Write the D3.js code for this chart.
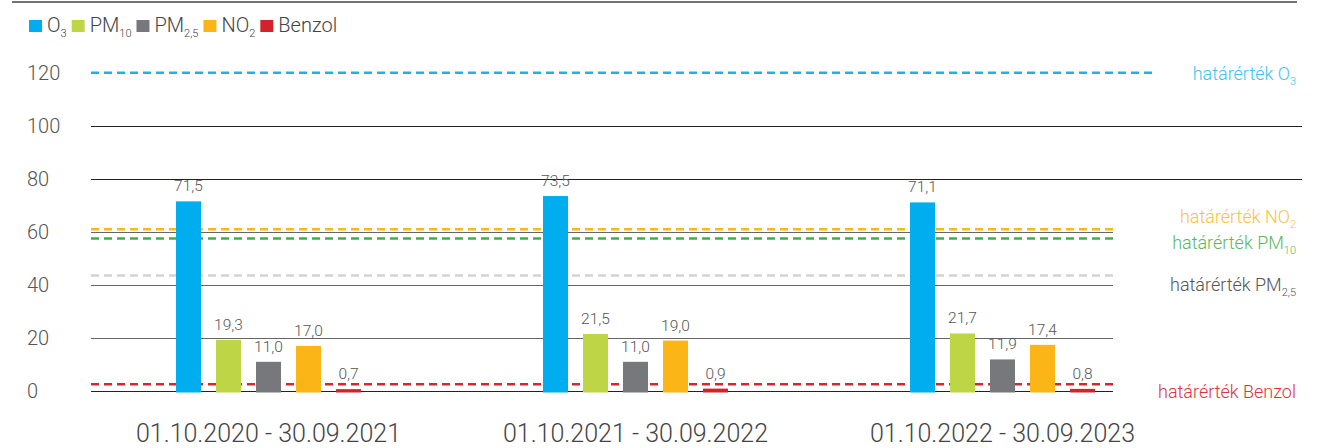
<!DOCTYPE html>
<html>
<head>
<meta charset="utf-8">
<script src="https://cdn.jsdelivr.net/npm/d3@7"></script>
<style>
  body { margin: 0; background: #fff; }
  svg { display: block; font-family: Roboto, "Open Sans", sans-serif; font-weight: 300; }
</style>
</head>
<body>
<div id="chart"></div>
<script>
// periods on the x axis
var periods = ["01.10.2020 - 30.09.2021", "01.10.2021 - 30.09.2022", "01.10.2022 - 30.09.2023"];

// pollutants (series)
var seriesKeys = ["O3", "PM10", "PM25", "NO2", "Benzol"];
var seriesNames = [["O", "3"], ["PM", "10"], ["PM", "2,5"], ["NO", "2"], ["Benzol", ""]];
var seriesColors = ["#00aeef", "#bed646", "#77787b", "#fbb516", "#d2232a"];

// yearly averages per period
var o3Values = [71.5, 73.5, 71.1];
var pm10Values = [19.3, 21.5, 21.7];
var pm25Values = [11.0, 11.0, 11.9];
var no2Values = [17.0, 19.0, 17.4];
var benzolValues = [0.7, 0.9, 0.8];

// limit values (határérték) as drawn
var limitValues = [120, 61, 57.5, 43.5, 2.5];
var limitNames = [["határérték O", "3"], ["határérték NO", "2"], ["határérték PM", "10"], ["határérték PM", "2,5"], ["határérték Benzol", ""]];
var limitColors = ["#1eb1ec", "#fbb817", "#45ad48", "#d3d3d3", "#d7262e"];
var limitTextColors = ["#3ec2f2", "#fcc13e", "#5bb85e", "#555555", "#e0323b"];

var yTicks = [0, 20, 40, 60, 80, 100, 120];

var allValues = [o3Values, pm10Values, pm25Values, no2Values, benzolValues];
var data = periods.map(function (p, i) {
  var row = { period: p };
  seriesKeys.forEach(function (k, j) { row[k] = allValues[j][i]; });
  return row;
});

const width = 1329, height = 448;

const svg = d3.select("#chart")
  .append("svg")
  .attr("width", width)
  .attr("height", height);

// scales
var y = d3.scaleLinear()
  .domain([0, 120])
  .range([391, 72.7]);

var x = d3.scaleBand()
  .domain(periods)
  .range([85, 1186]);

var xInner = d3.scaleBand()
  .domain(seriesKeys)
  .range([0, x.bandwidth()])
  .paddingInner(0.375)
  .paddingOuter(2.275);

var color = d3.scaleOrdinal().domain(seriesKeys).range(seriesColors);

// top rule
svg.append("line")
  .attr("x1", 12).attr("x2", 1297)
  .attr("y1", 2).attr("y2", 2)
  .attr("stroke", "#444").attr("stroke-width", 1.5);

// grid lines
svg.append("g")
  .selectAll("line")
  .data(yTicks.filter(d => d < 120))
  .enter().append("line")
  .attr("x1", 91)
  .attr("x2", d => d >= 80 ? 1302 : 1113)
  .attr("y1", d => Math.round(y(d)) + 0.5)
  .attr("y2", d => Math.round(y(d)) + 0.5)
  .attr("stroke", d => (d == 0 || d >= 80) ? "#222" : "#666")
  .attr("stroke-width", 1);

// y tick labels
svg.append("g")
  .selectAll("text")
  .data(yTicks)
  .enter().append("text")
  .attr("x", 27)
  .attr("y", d => y(d))
  .attr("dy", "0.36em")
  .attr("font-size", 20)
  .attr("fill", "#555")
  .text(d => d);

// limit lines
var limits = limitValues.map((v, i) => ({ v: v, name: limitNames[i], c: limitColors[i], tc: limitTextColors[i], i: i }));
var labelDy = [7, -6, 11, 15, 14];

svg.append("g")
  .selectAll("line")
  .data(limits)
  .enter().append("line")
  .attr("x1", 91)
  .attr("x2", d => d.i == 0 ? 1153 : 1113)
  .attr("y1", d => y(d.v))
  .attr("y2", d => y(d.v))
  .attr("stroke", d => d.c)
  .attr("stroke-width", 2.5)
  .attr("stroke-dasharray", "8,5");

var limitText = svg.append("g")
  .selectAll("text")
  .data(limits)
  .enter().append("text")
  .attr("x", 1296)
  .attr("y", d => y(d.v) + labelDy[d.i])
  .attr("text-anchor", "end")
  .attr("font-size", 18)
  .attr("fill", d => d.tc);
limitText.append("tspan").text(d => d.name[0]);
limitText.append("tspan")
  .attr("font-size", 11)
  .attr("dy", 5)
  .text(d => d.name[1]);

// bars
var groups = svg.append("g")
  .selectAll("g")
  .data(data)
  .enter().append("g")
  .attr("transform", d => "translate(" + x(d.period) + ",0)");

groups.selectAll("rect")
  .data(d => seriesKeys.map(k => ({ key: k, value: d[k] })))
  .enter().append("rect")
  .attr("x", d => xInner(d.key))
  .attr("y", d => y(d.value))
  .attr("width", xInner.bandwidth())
  .attr("height", d => y(0) - y(d.value) + 1.5)
  .attr("fill", d => color(d.key));

// value labels
groups.selectAll("text")
  .data(d => seriesKeys.map(k => ({ key: k, value: d[k] })))
  .enter().append("text")
  .attr("x", d => xInner(d.key) + xInner.bandwidth() / 2)
  .attr("y", d => y(d.value) - 10)
  .attr("text-anchor", "middle")
  .attr("font-size", 15.5)
  .attr("fill", "#555")
  .text(d => d3.format(".1f")(d.value).replace(".", ","));

// category labels
svg.append("g")
  .selectAll("text")
  .data(periods)
  .enter().append("text")
  .attr("x", d => x(d) + x.bandwidth() / 2)
  .attr("y", 442)
  .attr("text-anchor", "middle")
  .attr("font-size", 25)
  .attr("fill", "#444")
  .text(d => d);

// legend
var legend = svg.append("g").attr("transform", "translate(29,20)");
var lx = 0;
seriesKeys.forEach(function (k, i) {
  var item = legend.append("g").attr("transform", "translate(" + lx + ",0)");
  item.append("rect")
    .attr("width", 13).attr("height", 12)
    .attr("fill", color(k));
  var t = item.append("text")
    .attr("x", 18)
    .attr("y", 12)
    .attr("font-size", 20)
    .attr("fill", "#444");
  t.append("tspan").text(seriesNames[i][0]);
  t.append("tspan").attr("font-size", 11).attr("dy", 5).text(seriesNames[i][1]);
  lx += 18 + t.node().getComputedTextLength() + 5;
});
</script>
</body>
</html>
